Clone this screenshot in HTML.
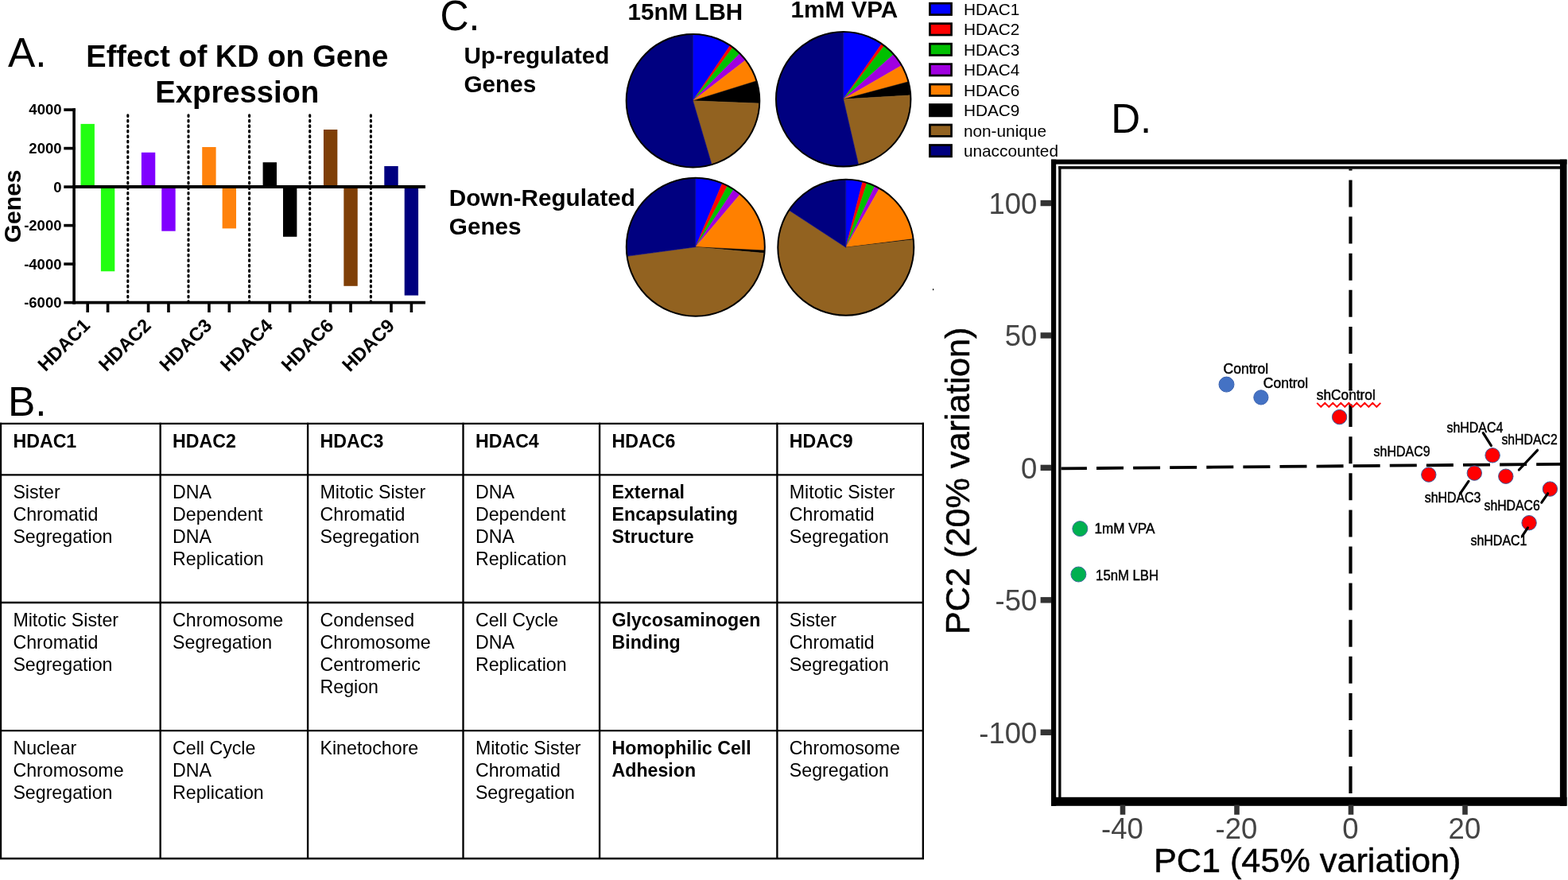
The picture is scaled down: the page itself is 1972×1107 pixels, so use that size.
<!DOCTYPE html>
<html><head><meta charset="utf-8"><title>HDAC knockdown figure</title>
<style>
html,body{margin:0;padding:0;background:#fff;}
body{width:1972px;height:1107px;overflow:hidden;}
svg{display:block;}
svg text{font-family:"Liberation Sans",Arial,sans-serif;}
</style></head><body>
<svg width="1972" height="1107" viewBox="0 0 1972 1107">
<rect width="1972" height="1107" fill="#fff"/>
<text x="10" y="84.4" font-size="51.5" font-weight="normal" text-anchor="start" fill="#000" >A.</text>
<text x="298.3" y="84.4" font-size="38" font-weight="bold" text-anchor="middle" fill="#000" >Effect of KD on Gene</text>
<text x="298.3" y="128.7" font-size="38.2" font-weight="bold" text-anchor="middle" fill="#000" >Expression</text>
<text transform="translate(25.7,259.4) rotate(-90)" font-size="30.1" font-weight="bold" text-anchor="middle">Genes</text>
<text x="77.5" y="144.48" font-size="18.5" font-weight="bold" text-anchor="end" fill="#000" >4000</text>
<line x1="80.3" y1="138.08" x2="94.9" y2="138.08" stroke="#000" stroke-width="3.6"/>
<text x="77.5" y="192.99" font-size="18.5" font-weight="bold" text-anchor="end" fill="#000" >2000</text>
<line x1="80.3" y1="186.59" x2="94.9" y2="186.59" stroke="#000" stroke-width="3.6"/>
<text x="77.5" y="241.5" font-size="18.5" font-weight="bold" text-anchor="end" fill="#000" >0</text>
<line x1="80.3" y1="235.10" x2="94.9" y2="235.10" stroke="#000" stroke-width="3.6"/>
<text x="77.5" y="290.01" font-size="18.5" font-weight="bold" text-anchor="end" fill="#000" >-2000</text>
<line x1="80.3" y1="283.61" x2="94.9" y2="283.61" stroke="#000" stroke-width="3.6"/>
<text x="77.5" y="338.52" font-size="18.5" font-weight="bold" text-anchor="end" fill="#000" >-4000</text>
<line x1="80.3" y1="332.12" x2="94.9" y2="332.12" stroke="#000" stroke-width="3.6"/>
<text x="77.5" y="387.03" font-size="18.5" font-weight="bold" text-anchor="end" fill="#000" >-6000</text>
<line x1="80.3" y1="380.63" x2="94.9" y2="380.63" stroke="#000" stroke-width="3.6"/>
<line x1="93.1" y1="136.3" x2="93.1" y2="382.43" stroke="#000" stroke-width="3.6"/>
<line x1="160.8" y1="140" x2="160.8" y2="380" stroke="#000" stroke-width="3.1" stroke-linecap="round" stroke-dasharray="1.6 4.9" stroke-dashoffset="1.7"/>
<line x1="237" y1="140" x2="237" y2="380" stroke="#000" stroke-width="3.1" stroke-linecap="round" stroke-dasharray="1.6 4.9" stroke-dashoffset="1.7"/>
<line x1="313.6" y1="140" x2="313.6" y2="380" stroke="#000" stroke-width="3.1" stroke-linecap="round" stroke-dasharray="1.6 4.9" stroke-dashoffset="1.7"/>
<line x1="389.7" y1="140" x2="389.7" y2="380" stroke="#000" stroke-width="3.1" stroke-linecap="round" stroke-dasharray="1.6 4.9" stroke-dashoffset="1.7"/>
<line x1="466.4" y1="140" x2="466.4" y2="380" stroke="#000" stroke-width="3.1" stroke-linecap="round" stroke-dasharray="1.6 4.9" stroke-dashoffset="1.7"/>
<rect x="101.50" y="155.90" width="17.4" height="79.20" fill="#22ff11"/>
<rect x="126.90" y="235.10" width="17.4" height="106.20" fill="#22ff11"/>
<line x1="110.20" y1="381" x2="110.20" y2="393" stroke="#000" stroke-width="3.6"/>
<line x1="135.60" y1="381" x2="135.60" y2="393" stroke="#000" stroke-width="3.6"/>
<rect x="177.86" y="191.80" width="17.4" height="43.30" fill="#8000ff"/>
<rect x="203.26" y="235.10" width="17.4" height="55.60" fill="#8000ff"/>
<line x1="186.56" y1="381" x2="186.56" y2="393" stroke="#000" stroke-width="3.6"/>
<line x1="211.96" y1="381" x2="211.96" y2="393" stroke="#000" stroke-width="3.6"/>
<rect x="254.22" y="185.00" width="17.4" height="50.10" fill="#ff820c"/>
<rect x="279.62" y="235.10" width="17.4" height="52.30" fill="#ff820c"/>
<line x1="262.92" y1="381" x2="262.92" y2="393" stroke="#000" stroke-width="3.6"/>
<line x1="288.32" y1="381" x2="288.32" y2="393" stroke="#000" stroke-width="3.6"/>
<rect x="330.58" y="204.20" width="17.4" height="30.90" fill="#000"/>
<rect x="355.98" y="235.10" width="17.4" height="62.70" fill="#000"/>
<line x1="339.28" y1="381" x2="339.28" y2="393" stroke="#000" stroke-width="3.6"/>
<line x1="364.68" y1="381" x2="364.68" y2="393" stroke="#000" stroke-width="3.6"/>
<rect x="406.94" y="163.00" width="17.4" height="72.10" fill="#7f3f07"/>
<rect x="432.34" y="235.10" width="17.4" height="124.70" fill="#7f3f07"/>
<line x1="415.64" y1="381" x2="415.64" y2="393" stroke="#000" stroke-width="3.6"/>
<line x1="441.04" y1="381" x2="441.04" y2="393" stroke="#000" stroke-width="3.6"/>
<rect x="483.30" y="209.00" width="17.4" height="26.10" fill="#00007f"/>
<rect x="508.70" y="235.10" width="17.4" height="136.50" fill="#00007f"/>
<line x1="492.00" y1="381" x2="492.00" y2="393" stroke="#000" stroke-width="3.6"/>
<line x1="517.40" y1="381" x2="517.40" y2="393" stroke="#000" stroke-width="3.6"/>
<line x1="91.3" y1="235.0" x2="535" y2="235.0" stroke="#000" stroke-width="4"/>
<line x1="91.3" y1="380.65" x2="535" y2="380.65" stroke="#000" stroke-width="3.6"/>
<text transform="translate(114.60,410.8) rotate(-45)" font-size="23.6" font-weight="bold" text-anchor="end">HDAC1</text>
<text transform="translate(191.18,410.90) rotate(-45)" font-size="23.6" font-weight="bold" text-anchor="end">HDAC2</text>
<text transform="translate(267.76,411.0) rotate(-45)" font-size="23.6" font-weight="bold" text-anchor="end">HDAC3</text>
<text transform="translate(344.34,411.1) rotate(-45)" font-size="23.6" font-weight="bold" text-anchor="end">HDAC4</text>
<text transform="translate(420.92,411.2) rotate(-45)" font-size="23.6" font-weight="bold" text-anchor="end">HDAC6</text>
<text transform="translate(497.50,411.3) rotate(-45)" font-size="23.6" font-weight="bold" text-anchor="end">HDAC9</text>
<text x="9.9" y="522.9" font-size="51.5" font-weight="normal" text-anchor="start" fill="#000" >B.</text>
<line x1="1" y1="531.75" x2="1" y2="1081.10" stroke="#000" stroke-width="2.35"/>
<line x1="201.65" y1="531.75" x2="201.65" y2="1081.10" stroke="#000" stroke-width="2.35"/>
<line x1="387.1" y1="531.75" x2="387.1" y2="1081.10" stroke="#000" stroke-width="2.35"/>
<line x1="582.5" y1="531.75" x2="582.5" y2="1081.10" stroke="#000" stroke-width="2.35"/>
<line x1="754.1" y1="531.75" x2="754.1" y2="1081.10" stroke="#000" stroke-width="2.35"/>
<line x1="977.4" y1="531.75" x2="977.4" y2="1081.10" stroke="#000" stroke-width="2.35"/>
<line x1="1160.85" y1="531.75" x2="1160.85" y2="1081.10" stroke="#000" stroke-width="2.35"/>
<line x1="-0.14" y1="532.9" x2="1162.0" y2="532.9" stroke="#000" stroke-width="2.35"/>
<line x1="-0.14" y1="597.35" x2="1162.0" y2="597.35" stroke="#000" stroke-width="2.35"/>
<line x1="-0.14" y1="758.0" x2="1162.0" y2="758.0" stroke="#000" stroke-width="2.35"/>
<line x1="-0.14" y1="919.05" x2="1162.0" y2="919.05" stroke="#000" stroke-width="2.35"/>
<line x1="-0.14" y1="1079.95" x2="1162.0" y2="1079.95" stroke="#000" stroke-width="2.35"/>
<text x="16.4" y="562.65" font-size="23.2" font-weight="bold" text-anchor="start" fill="#000" >HDAC1</text>
<text x="217.05" y="562.65" font-size="23.2" font-weight="bold" text-anchor="start" fill="#000" >HDAC2</text>
<text x="402.5" y="562.65" font-size="23.2" font-weight="bold" text-anchor="start" fill="#000" >HDAC3</text>
<text x="597.9" y="562.65" font-size="23.2" font-weight="bold" text-anchor="start" fill="#000" >HDAC4</text>
<text x="769.5" y="562.65" font-size="23.2" font-weight="bold" text-anchor="start" fill="#000" >HDAC6</text>
<text x="992.8" y="562.65" font-size="23.2" font-weight="bold" text-anchor="start" fill="#000" >HDAC9</text>
<text x="16.4" y="627.1" font-size="23.2" font-weight="normal" text-anchor="start" fill="#000" >Sister</text>
<text x="16.4" y="655.1" font-size="23.2" font-weight="normal" text-anchor="start" fill="#000" >Chromatid</text>
<text x="16.4" y="683.1" font-size="23.2" font-weight="normal" text-anchor="start" fill="#000" >Segregation</text>
<text x="217.05" y="627.1" font-size="23.2" font-weight="normal" text-anchor="start" fill="#000" >DNA</text>
<text x="217.05" y="655.1" font-size="23.2" font-weight="normal" text-anchor="start" fill="#000" >Dependent</text>
<text x="217.05" y="683.1" font-size="23.2" font-weight="normal" text-anchor="start" fill="#000" >DNA</text>
<text x="217.05" y="711.1" font-size="23.2" font-weight="normal" text-anchor="start" fill="#000" >Replication</text>
<text x="402.5" y="627.1" font-size="23.2" font-weight="normal" text-anchor="start" fill="#000" >Mitotic Sister</text>
<text x="402.5" y="655.1" font-size="23.2" font-weight="normal" text-anchor="start" fill="#000" >Chromatid</text>
<text x="402.5" y="683.1" font-size="23.2" font-weight="normal" text-anchor="start" fill="#000" >Segregation</text>
<text x="597.9" y="627.1" font-size="23.2" font-weight="normal" text-anchor="start" fill="#000" >DNA</text>
<text x="597.9" y="655.1" font-size="23.2" font-weight="normal" text-anchor="start" fill="#000" >Dependent</text>
<text x="597.9" y="683.1" font-size="23.2" font-weight="normal" text-anchor="start" fill="#000" >DNA</text>
<text x="597.9" y="711.1" font-size="23.2" font-weight="normal" text-anchor="start" fill="#000" >Replication</text>
<text x="769.5" y="627.1" font-size="23.2" font-weight="bold" text-anchor="start" fill="#000" >External</text>
<text x="769.5" y="655.1" font-size="23.2" font-weight="bold" text-anchor="start" fill="#000" >Encapsulating</text>
<text x="769.5" y="683.1" font-size="23.2" font-weight="bold" text-anchor="start" fill="#000" >Structure</text>
<text x="992.8" y="627.1" font-size="23.2" font-weight="normal" text-anchor="start" fill="#000" >Mitotic Sister</text>
<text x="992.8" y="655.1" font-size="23.2" font-weight="normal" text-anchor="start" fill="#000" >Chromatid</text>
<text x="992.8" y="683.1" font-size="23.2" font-weight="normal" text-anchor="start" fill="#000" >Segregation</text>
<text x="16.4" y="787.75" font-size="23.2" font-weight="normal" text-anchor="start" fill="#000" >Mitotic Sister</text>
<text x="16.4" y="815.75" font-size="23.2" font-weight="normal" text-anchor="start" fill="#000" >Chromatid</text>
<text x="16.4" y="843.75" font-size="23.2" font-weight="normal" text-anchor="start" fill="#000" >Segregation</text>
<text x="217.05" y="787.75" font-size="23.2" font-weight="normal" text-anchor="start" fill="#000" >Chromosome</text>
<text x="217.05" y="815.75" font-size="23.2" font-weight="normal" text-anchor="start" fill="#000" >Segregation</text>
<text x="402.5" y="787.75" font-size="23.2" font-weight="normal" text-anchor="start" fill="#000" >Condensed</text>
<text x="402.5" y="815.75" font-size="23.2" font-weight="normal" text-anchor="start" fill="#000" >Chromosome</text>
<text x="402.5" y="843.75" font-size="23.2" font-weight="normal" text-anchor="start" fill="#000" >Centromeric</text>
<text x="402.5" y="871.75" font-size="23.2" font-weight="normal" text-anchor="start" fill="#000" >Region</text>
<text x="597.9" y="787.75" font-size="23.2" font-weight="normal" text-anchor="start" fill="#000" >Cell Cycle</text>
<text x="597.9" y="815.75" font-size="23.2" font-weight="normal" text-anchor="start" fill="#000" >DNA</text>
<text x="597.9" y="843.75" font-size="23.2" font-weight="normal" text-anchor="start" fill="#000" >Replication</text>
<text x="769.5" y="787.75" font-size="23.2" font-weight="bold" text-anchor="start" fill="#000" >Glycosaminogen</text>
<text x="769.5" y="815.75" font-size="23.2" font-weight="bold" text-anchor="start" fill="#000" >Binding</text>
<text x="992.8" y="787.75" font-size="23.2" font-weight="normal" text-anchor="start" fill="#000" >Sister</text>
<text x="992.8" y="815.75" font-size="23.2" font-weight="normal" text-anchor="start" fill="#000" >Chromatid</text>
<text x="992.8" y="843.75" font-size="23.2" font-weight="normal" text-anchor="start" fill="#000" >Segregation</text>
<text x="16.4" y="948.8" font-size="23.2" font-weight="normal" text-anchor="start" fill="#000" >Nuclear</text>
<text x="16.4" y="976.8" font-size="23.2" font-weight="normal" text-anchor="start" fill="#000" >Chromosome</text>
<text x="16.4" y="1004.8" font-size="23.2" font-weight="normal" text-anchor="start" fill="#000" >Segregation</text>
<text x="217.05" y="948.8" font-size="23.2" font-weight="normal" text-anchor="start" fill="#000" >Cell Cycle</text>
<text x="217.05" y="976.8" font-size="23.2" font-weight="normal" text-anchor="start" fill="#000" >DNA</text>
<text x="217.05" y="1004.8" font-size="23.2" font-weight="normal" text-anchor="start" fill="#000" >Replication</text>
<text x="402.5" y="948.8" font-size="23.2" font-weight="normal" text-anchor="start" fill="#000" >Kinetochore</text>
<text x="597.9" y="948.8" font-size="23.2" font-weight="normal" text-anchor="start" fill="#000" >Mitotic Sister</text>
<text x="597.9" y="976.8" font-size="23.2" font-weight="normal" text-anchor="start" fill="#000" >Chromatid</text>
<text x="597.9" y="1004.8" font-size="23.2" font-weight="normal" text-anchor="start" fill="#000" >Segregation</text>
<text x="769.5" y="948.8" font-size="23.2" font-weight="bold" text-anchor="start" fill="#000" >Homophilic Cell</text>
<text x="769.5" y="976.8" font-size="23.2" font-weight="bold" text-anchor="start" fill="#000" >Adhesion</text>
<text x="992.8" y="948.8" font-size="23.2" font-weight="normal" text-anchor="start" fill="#000" >Chromosome</text>
<text x="992.8" y="976.8" font-size="23.2" font-weight="normal" text-anchor="start" fill="#000" >Segregation</text>
<text transform="translate(553.4,38.3) scale(1,1.08)" font-size="50">C.</text>
<text x="861.9" y="25" font-size="29.6" font-weight="bold" text-anchor="middle" fill="#000" >15nM LBH</text>
<text x="1061.9" y="22" font-size="29.7" font-weight="bold" text-anchor="middle" fill="#000" >1mM VPA</text>
<text x="583.4" y="79.8" font-size="29.7" font-weight="bold" text-anchor="start" fill="#000" >Up-regulated</text>
<text x="583.4" y="116" font-size="29.7" font-weight="bold" text-anchor="start" fill="#000" >Genes</text>
<text x="564.8" y="259" font-size="29.7" font-weight="bold" text-anchor="start" fill="#000" >Down-Regulated</text>
<text x="564.8" y="294.9" font-size="29.7" font-weight="bold" text-anchor="start" fill="#000" >Genes</text>
<path d="M871.50,126.70 L871.50,42.90 A83.8,83.8 0 0 1 918.24,57.14 Z" fill="#0000ff" stroke="#0000ff" stroke-width="0.5"/>
<path d="M871.50,126.70 L918.24,57.14 A83.8,83.8 0 0 1 921.70,59.60 Z" fill="#ff0000" stroke="#ff0000" stroke-width="0.5"/>
<path d="M871.50,126.70 L921.70,59.60 A83.8,83.8 0 0 1 930.55,67.24 Z" fill="#00c000" stroke="#00c000" stroke-width="0.5"/>
<path d="M871.50,126.70 L930.55,67.24 A83.8,83.8 0 0 1 937.89,75.57 Z" fill="#a000e0" stroke="#a000e0" stroke-width="0.5"/>
<path d="M871.50,126.70 L937.89,75.57 A83.8,83.8 0 0 1 951.51,101.78 Z" fill="#ff8000" stroke="#ff8000" stroke-width="0.5"/>
<path d="M871.50,126.70 L951.51,101.78 A83.8,83.8 0 0 1 955.23,130.06 Z" fill="#000000" stroke="#000000" stroke-width="0.5"/>
<path d="M871.50,126.70 L955.23,130.06 A83.8,83.8 0 0 1 895.16,207.09 Z" fill="#926220" stroke="#926220" stroke-width="0.5"/>
<path d="M871.50,126.70 L895.16,207.09 A83.8,83.8 0 1 1 871.50,42.90 Z" fill="#000080" stroke="#000080" stroke-width="0.5"/>
<circle cx="871.5" cy="126.7" r="83.8" fill="none" stroke="#000" stroke-width="2"/>
<path d="M1060.70,124.70 L1060.70,40.00 A84.7,84.7 0 0 1 1108.92,55.06 Z" fill="#0000ff" stroke="#0000ff" stroke-width="0.5"/>
<path d="M1060.70,124.70 L1108.92,55.06 A84.7,84.7 0 0 1 1112.14,57.41 Z" fill="#ff0000" stroke="#ff0000" stroke-width="0.5"/>
<path d="M1060.70,124.70 L1112.14,57.41 A84.7,84.7 0 0 1 1123.94,68.35 Z" fill="#00c000" stroke="#00c000" stroke-width="0.5"/>
<path d="M1060.70,124.70 L1123.94,68.35 A84.7,84.7 0 0 1 1134.05,82.35 Z" fill="#a000e0" stroke="#a000e0" stroke-width="0.5"/>
<path d="M1060.70,124.70 L1134.05,82.35 A84.7,84.7 0 0 1 1142.51,102.78 Z" fill="#ff8000" stroke="#ff8000" stroke-width="0.5"/>
<path d="M1060.70,124.70 L1142.51,102.78 A84.7,84.7 0 0 1 1145.26,119.82 Z" fill="#000000" stroke="#000000" stroke-width="0.5"/>
<path d="M1060.70,124.70 L1145.26,119.82 A84.7,84.7 0 0 1 1079.75,207.23 Z" fill="#926220" stroke="#926220" stroke-width="0.5"/>
<path d="M1060.70,124.70 L1079.75,207.23 A84.7,84.7 0 1 1 1060.70,40.00 Z" fill="#000080" stroke="#000080" stroke-width="0.5"/>
<circle cx="1060.7" cy="124.7" r="84.7" fill="none" stroke="#000" stroke-width="2"/>
<path d="M874.80,310.70 L874.80,223.70 A87,87 0 0 1 908.44,230.47 Z" fill="#0000ff" stroke="#0000ff" stroke-width="0.5"/>
<path d="M874.80,310.70 L908.44,230.47 A87,87 0 0 1 915.11,233.60 Z" fill="#ff0000" stroke="#ff0000" stroke-width="0.5"/>
<path d="M874.80,310.70 L915.11,233.60 A87,87 0 0 1 922.82,238.15 Z" fill="#00c000" stroke="#00c000" stroke-width="0.5"/>
<path d="M874.80,310.70 L922.82,238.15 A87,87 0 0 1 930.95,244.25 Z" fill="#a000e0" stroke="#a000e0" stroke-width="0.5"/>
<path d="M874.80,310.70 L930.95,244.25 A87,87 0 0 1 961.70,314.95 Z" fill="#ff8000" stroke="#ff8000" stroke-width="0.5"/>
<path d="M874.80,310.70 L961.70,314.95 A87,87 0 0 1 961.46,318.43 Z" fill="#000000" stroke="#000000" stroke-width="0.5"/>
<path d="M874.80,310.70 L961.46,318.43 A87,87 0 0 1 788.58,322.36 Z" fill="#926220" stroke="#926220" stroke-width="0.5"/>
<path d="M874.80,310.70 L788.58,322.36 A87,87 0 0 1 874.80,223.70 Z" fill="#000080" stroke="#000080" stroke-width="0.5"/>
<circle cx="874.8" cy="310.7" r="87" fill="none" stroke="#000" stroke-width="2"/>
<path d="M1063.80,311.30 L1063.80,225.80 A85.5,85.5 0 0 1 1084.92,228.45 Z" fill="#0000ff" stroke="#0000ff" stroke-width="0.5"/>
<path d="M1063.80,311.30 L1084.92,228.45 A85.5,85.5 0 0 1 1090.36,230.03 Z" fill="#ff0000" stroke="#ff0000" stroke-width="0.5"/>
<path d="M1063.80,311.30 L1090.36,230.03 A85.5,85.5 0 0 1 1100.34,234.00 Z" fill="#00c000" stroke="#00c000" stroke-width="0.5"/>
<path d="M1063.80,311.30 L1100.34,234.00 A85.5,85.5 0 0 1 1106.03,236.96 Z" fill="#a000e0" stroke="#a000e0" stroke-width="0.5"/>
<path d="M1063.80,311.30 L1106.03,236.96 A85.5,85.5 0 0 1 1148.63,300.58 Z" fill="#ff8000" stroke="#ff8000" stroke-width="0.5"/>
<path d="M1063.80,311.30 L1148.63,300.58 A85.5,85.5 0 0 1 1148.75,301.62 Z" fill="#000000" stroke="#000000" stroke-width="0.5"/>
<path d="M1063.80,311.30 L1148.75,301.62 A85.5,85.5 0 1 1 992.26,264.48 Z" fill="#926220" stroke="#926220" stroke-width="0.5"/>
<path d="M1063.80,311.30 L992.26,264.48 A85.5,85.5 0 0 1 1063.80,225.80 Z" fill="#000080" stroke="#000080" stroke-width="0.5"/>
<circle cx="1063.8" cy="311.3" r="85.5" fill="none" stroke="#000" stroke-width="2"/>
<rect x="1169.45" y="4.19" width="27.1" height="14.36" fill="#0000ff" stroke="#000" stroke-width="2.7"/>
<text x="1211.9" y="19.0" font-size="20.8" font-weight="normal" text-anchor="start" fill="#000" >HDAC1</text>
<rect x="1169.45" y="29.66" width="27.1" height="14.36" fill="#ff0000" stroke="#000" stroke-width="2.7"/>
<text x="1211.9" y="44.44" font-size="20.8" font-weight="normal" text-anchor="start" fill="#000" >HDAC2</text>
<rect x="1169.45" y="55.13" width="27.1" height="14.36" fill="#00c000" stroke="#000" stroke-width="2.7"/>
<text x="1211.9" y="69.88" font-size="20.8" font-weight="normal" text-anchor="start" fill="#000" >HDAC3</text>
<rect x="1169.45" y="80.60" width="27.1" height="14.36" fill="#a000e0" stroke="#000" stroke-width="2.7"/>
<text x="1211.9" y="95.32" font-size="20.8" font-weight="normal" text-anchor="start" fill="#000" >HDAC4</text>
<rect x="1169.45" y="106.07" width="27.1" height="14.36" fill="#ff8000" stroke="#000" stroke-width="2.7"/>
<text x="1211.9" y="120.76" font-size="20.8" font-weight="normal" text-anchor="start" fill="#000" >HDAC6</text>
<rect x="1169.45" y="131.54" width="27.1" height="14.36" fill="#000000" stroke="#000" stroke-width="2.7"/>
<text x="1211.9" y="146.2" font-size="20.8" font-weight="normal" text-anchor="start" fill="#000" >HDAC9</text>
<rect x="1169.45" y="157.01" width="27.1" height="14.36" fill="#926220" stroke="#000" stroke-width="2.7"/>
<text x="1211.9" y="171.64" font-size="20.8" font-weight="normal" text-anchor="start" fill="#000" >non-unique</text>
<rect x="1169.45" y="182.48" width="27.1" height="14.36" fill="#000080" stroke="#000" stroke-width="2.7"/>
<text x="1211.9" y="197.08" font-size="20.8" font-weight="normal" text-anchor="start" fill="#000" >unaccounted</text>
<text x="1397.2" y="166.8" font-size="51" font-weight="normal" text-anchor="start" fill="#000" >D.</text>
<rect x="1322" y="200.6" width="648.5" height="6" fill="#000"/>
<rect x="1322" y="200.6" width="6.2" height="813.2" fill="#000"/>
<rect x="1961.9" y="200.6" width="8.6" height="813.2" fill="#000"/>
<rect x="1322" y="1002.8" width="648.5" height="11" fill="#000"/>
<rect x="1331.2" y="209.1" width="631" height="3.5" fill="#000"/>
<rect x="1331.2" y="209.1" width="3.3" height="795" fill="#000"/>
<rect x="1308.6" y="251.84" width="13.6" height="7.4" fill="#333"/>
<text x="1304.3" y="268.94" font-size="36.5" font-weight="normal" text-anchor="end" fill="#444" >100</text>
<rect x="1308.6" y="418.27" width="13.6" height="7.4" fill="#333"/>
<text x="1304.3" y="435.37" font-size="36.5" font-weight="normal" text-anchor="end" fill="#444" >50</text>
<rect x="1308.6" y="584.70" width="13.6" height="7.4" fill="#333"/>
<text x="1304.3" y="601.8" font-size="36.5" font-weight="normal" text-anchor="end" fill="#444" >0</text>
<rect x="1308.6" y="751.13" width="13.6" height="7.4" fill="#333"/>
<text x="1304.3" y="768.22" font-size="36.5" font-weight="normal" text-anchor="end" fill="#444" >-50</text>
<rect x="1308.6" y="917.56" width="13.6" height="7.4" fill="#333"/>
<text x="1304.3" y="934.66" font-size="36.5" font-weight="normal" text-anchor="end" fill="#444" >-100</text>
<rect x="1408.70" y="1012.5" width="6.6" height="12.3" fill="#333"/>
<text x="1411.4" y="1054.8" font-size="36.5" font-weight="normal" text-anchor="middle" fill="#444" >-40</text>
<rect x="1552.20" y="1012.5" width="6.6" height="12.3" fill="#333"/>
<text x="1554.9" y="1054.8" font-size="36.5" font-weight="normal" text-anchor="middle" fill="#444" >-20</text>
<rect x="1695.70" y="1012.5" width="6.6" height="12.3" fill="#333"/>
<text x="1698.4" y="1054.8" font-size="36.5" font-weight="normal" text-anchor="middle" fill="#444" >0</text>
<rect x="1839.20" y="1012.5" width="6.6" height="12.3" fill="#333"/>
<text x="1841.9" y="1054.8" font-size="36.5" font-weight="normal" text-anchor="middle" fill="#444" >20</text>
<text x="1644.2" y="1096.8" font-size="43.2" font-weight="normal" text-anchor="middle" fill="#000" stroke="#000" stroke-width="0.5">PC1 (45% variation)</text>
<text transform="translate(1218.6,604.8) rotate(-90)" font-size="43.2" text-anchor="middle" stroke="#000" stroke-width="0.5">PC2 (20% variation)</text>
<line x1="1334.5" y1="589.4" x2="1962" y2="583.8" stroke="#000" stroke-width="3.8" stroke-dasharray="34 12.1" stroke-dashoffset="1.6"/>
<line x1="1698.5" y1="212.6" x2="1698.5" y2="1003" stroke="#000" stroke-width="4.2" stroke-dasharray="34 12.1" stroke-dashoffset="32.2"/>
<line x1="1698.5" y1="490" x2="1698.5" y2="506" stroke="#000" stroke-width="4.2"/>
<circle cx="1542.5" cy="483.6" r="9.5" fill="#4472c4" stroke="#3a62b0" stroke-width="1"/>
<circle cx="1585.9" cy="499.9" r="9.1" fill="#4472c4" stroke="#3a62b0" stroke-width="1"/>
<circle cx="1684.6" cy="524.6" r="9.2" fill="#ff0000" stroke="#3a5a9a" stroke-width="1"/>
<circle cx="1796.8" cy="597.1" r="9.2" fill="#ff0000" stroke="#3a5a9a" stroke-width="1"/>
<circle cx="1854.3" cy="595.1" r="9.2" fill="#ff0000" stroke="#3a5a9a" stroke-width="1"/>
<circle cx="1877.1" cy="572.8" r="9.2" fill="#ff0000" stroke="#3a5a9a" stroke-width="1"/>
<circle cx="1893.8" cy="599.2" r="9.2" fill="#ff0000" stroke="#3a5a9a" stroke-width="1"/>
<circle cx="1949.4" cy="615.1" r="9.2" fill="#ff0000" stroke="#3a5a9a" stroke-width="1"/>
<circle cx="1923.1" cy="657.7" r="9.2" fill="#ff0000" stroke="#3a5a9a" stroke-width="1"/>
<circle cx="1358.3" cy="665.1" r="9.5" fill="#00b050" stroke="#41719c" stroke-width="1"/>
<circle cx="1356.4" cy="722.5" r="9.5" fill="#00b050" stroke="#41719c" stroke-width="1"/>
<line x1="1865.3" y1="544.7" x2="1875.4" y2="560.6" stroke="#000" stroke-width="3.2" stroke-linecap="round"/>
<line x1="1933.6" y1="566.3" x2="1910.4" y2="591" stroke="#000" stroke-width="3.2" stroke-linecap="round"/>
<line x1="1847" y1="605.4" x2="1836.4" y2="620.8" stroke="#000" stroke-width="3.2" stroke-linecap="round"/>
<line x1="1946.6" y1="620.8" x2="1938.8" y2="632.2" stroke="#000" stroke-width="3.2" stroke-linecap="round"/>
<line x1="1921.4" y1="663.9" x2="1914.4" y2="674.4" stroke="#000" stroke-width="3.2" stroke-linecap="round"/>
<rect x="1655" y="491.6" width="76" height="16.9" fill="#fff"/>
<rect x="1173" y="363.2" width="1.2" height="2" fill="#000"/>
<text x="1538.5" y="469.7" font-size="17.5" textLength="56.6" lengthAdjust="spacingAndGlyphs" stroke="#000" stroke-width="0.45">Control</text>
<text x="1588.8" y="487.7" font-size="17.5" textLength="56.4" lengthAdjust="spacingAndGlyphs" stroke="#000" stroke-width="0.45">Control</text>
<text x="1655.8" y="503" font-size="17.5" textLength="74.0" lengthAdjust="spacingAndGlyphs" stroke="#000" stroke-width="0.45">shControl</text>
<text x="1819.4" y="544.2" font-size="17.5" textLength="71.0" lengthAdjust="spacingAndGlyphs" stroke="#000" stroke-width="0.45">shHDAC4</text>
<text x="1888.4" y="559.3" font-size="17.5" textLength="70.3" lengthAdjust="spacingAndGlyphs" stroke="#000" stroke-width="0.45">shHDAC2</text>
<text x="1727.6" y="574.0" font-size="17.5" textLength="71.0" lengthAdjust="spacingAndGlyphs" stroke="#000" stroke-width="0.45">shHDAC9</text>
<text x="1791.7" y="632.2" font-size="17.5" textLength="70.8" lengthAdjust="spacingAndGlyphs" stroke="#000" stroke-width="0.45">shHDAC3</text>
<text x="1866.5" y="641.9" font-size="17.5" textLength="70.3" lengthAdjust="spacingAndGlyphs" stroke="#000" stroke-width="0.45">shHDAC6</text>
<text x="1849.4" y="686.3" font-size="17.5" textLength="71.1" lengthAdjust="spacingAndGlyphs" stroke="#000" stroke-width="0.45">shHDAC1</text>
<text x="1376.6" y="670.8" font-size="17.5" textLength="75.7" lengthAdjust="spacingAndGlyphs" stroke="#000" stroke-width="0.45">1mM VPA</text>
<text x="1378.1" y="730.1" font-size="17.5" textLength="79.0" lengthAdjust="spacingAndGlyphs" stroke="#000" stroke-width="0.45">15nM LBH</text>
<polyline points="1656.3,506.9 1661.3,511.9 1666.3,506.9 1671.3,511.9 1676.3,506.9 1681.3,511.9 1686.3,506.9 1691.3,511.9 1696.3,506.9 1701.3,511.9 1706.3,506.9 1711.3,511.9 1716.3,506.9 1721.3,511.9 1726.3,506.9 1731.3,511.9 1736.3,506.9" fill="none" stroke="#ff0000" stroke-width="2.0" stroke-linejoin="miter"/>
</svg>
</body></html>
